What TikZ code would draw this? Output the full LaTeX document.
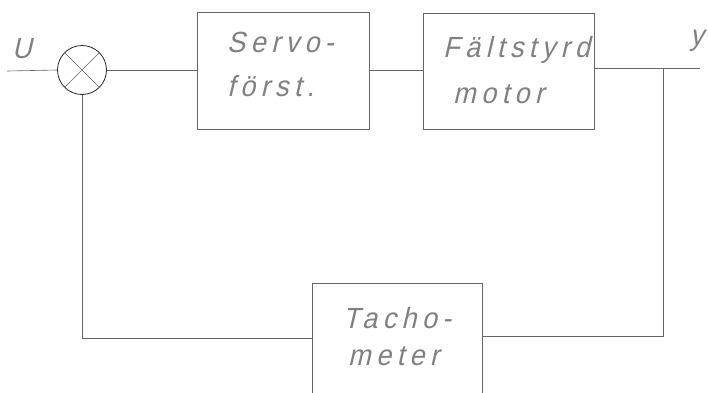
\documentclass[tikz,border=0pt]{standalone}
\usepackage{fontspec}
\newfontfamily\hand[FakeSlant=0.25,LetterSpace=20]{Liberation Sans}
\begin{document}
\begin{tikzpicture}[x=1pt,y=-1pt,
  wire/.style={draw=black!60,line width=0.6pt},
  blockbox/.style={draw=black!60,line width=0.6pt,rectangle,inner sep=0pt},
  handtext/.style={font=\hand\fontsize{27}{27}\selectfont,text=black!50,inner sep=0pt,anchor=base west,yscale=1.08,transform shape}]
\useasboundingbox (0,0) rectangle (708,392);
\clip (0,0) rectangle (708,392);

% summing junction
\node[circle,draw=black!85,line width=0.8pt,minimum size=49pt,inner sep=0pt] (sum) at (82,70) {};
\draw[black!60,line width=0.6pt] (sum.north west) -- (sum.south east)
                                 (sum.north east) -- (sum.south west);

% blocks
\node[blockbox,minimum width=172pt,minimum height=117pt] (servo) at (283,70.5) {};
\node[blockbox,minimum width=171pt,minimum height=116pt] (motor) at (508.5,71) {};
\node[blockbox,minimum width=170pt,minimum height=130pt] (tacho) at (397,348) {};

% labels in the blocks
\node[handtext] (t1) at (227,52) {Servo-};
\node[handtext] (t2) at (227,96) {först.};
\node[handtext] (t3) at (443,57) {Fältstyrd};
\node[handtext] (t4) at (453,103) {motor};
\node[handtext] (t5) at (343,328) {Tacho-};
\node[handtext] (t6) at (348,365) {meter};

% signal labels
\node[handtext] (ulab) at (12,58) {U};
\node[handtext] (ylab) at (690,45) {y};

% points of the loop
\coordinate (uin) at (7,71);
\coordinate (yout) at (700,68);
\coordinate (branch) at (663,68);
\coordinate (br) at (663,336);
\coordinate (bl) at (82,338);

% connectors
\draw[wire] (uin) -- (sum.west);
\draw[wire] (sum.east) -- (sum.east -| servo.west);
\draw[wire] (servo.east) -- (servo.east -| motor.west);
\draw[wire] (motor.east |- yout) -- (yout);
\draw[wire] (branch) -- (br) -- (br -| tacho.east);
\draw[wire] (bl -| tacho.west) -- (bl) -- (sum.south);
\end{tikzpicture}
\end{document}
